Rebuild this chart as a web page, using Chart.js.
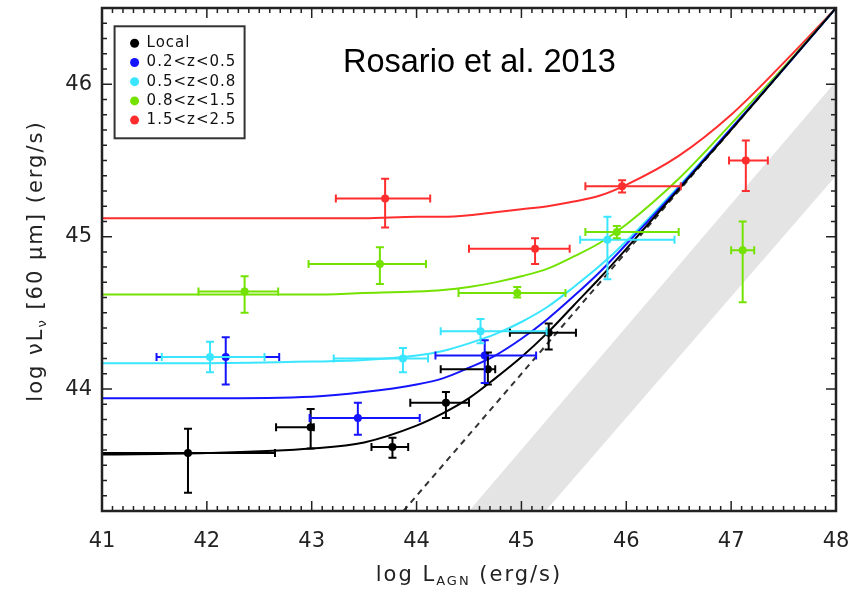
<!DOCTYPE html>
<html>
<head>
<meta charset="utf-8">
<script src="https://cdn.jsdelivr.net/npm/chart.js@4.4.0/dist/chart.umd.min.js"></script>
<style>
  html, body { margin: 0; padding: 0; background: #fff; }
</style>
</head>
<body>
<canvas id="myChart" width="861" height="591"></canvas>
<script>
// axis ticks
const xTicks = [41, 42, 43, 44, 45, 46, 47, 48];
const yTicks = [44, 45, 46];

// redshift bins
const groups = ['Local', '0.2<z<0.5', '0.5<z<0.8', '0.8<z<1.5', '1.5<z<2.5'];
const colors = ['#000000', '#1414ff', '#3ae6ff', '#74e200', '#ff2d2d'];

// measured points (centre, x range, y range)
const localX   = [41.82, 42.99, 43.77, 44.28, 44.68, 45.26];
const localY   = [43.58, 43.75, 43.62, 43.91, 44.13, 44.37];
const localXLo = [41.00, 42.66, 43.57, 43.94, 44.23, 44.89];
const localXHi = [42.65, 43.02, 43.92, 44.50, 44.75, 45.52];
const localYLo = [43.32, 43.61, 43.55, 43.81, 44.03, 44.26];
const localYHi = [43.74, 43.87, 43.68, 43.98, 44.24, 44.43];

const z1X   = [42.18, 43.44, 44.65];
const z1Y   = [44.21, 43.81, 44.22];
const z1XLo = [41.52, 42.98, 44.18];
const z1XHi = [42.69, 44.03, 45.14];
const z1YLo = [44.03, 43.70, 44.04];
const z1YHi = [44.34, 43.91, 44.32];

const z2X   = [42.03, 43.87, 44.61, 45.82];
const z2Y   = [44.21, 44.20, 44.38, 44.98];
const z2XLo = [41.57, 43.21, 44.23, 45.56];
const z2XHi = [42.55, 44.11, 45.24, 46.46];
const z2YLo = [44.11, 44.11, 44.30, 44.72];
const z2YHi = [44.31, 44.27, 44.46, 45.13];

const z3X   = [42.36, 43.65, 44.96, 45.91, 47.11];
const z3Y   = [44.64, 44.82, 44.63, 45.03, 44.91];
const z3XLo = [41.92, 42.97, 44.40, 45.61, 47.00];
const z3XHi = [42.68, 44.09, 45.42, 46.50, 47.22];
const z3YLo = [44.50, 44.69, 44.60, 44.99, 44.57];
const z3YHi = [44.74, 44.93, 44.67, 45.07, 45.10];

const z4X   = [43.70, 45.13, 45.96, 47.14];
const z4Y   = [45.25, 44.92, 45.33, 45.50];
const z4XLo = [43.23, 44.50, 45.61, 46.98];
const z4XHi = [44.13, 45.46, 46.52, 47.35];
const z4YLo = [45.06, 44.82, 45.29, 45.30];
const z4YHi = [45.38, 44.99, 45.37, 45.63];

// model curves
const curveX = [41, 42, 43, 43.5, 44, 44.25, 44.5, 44.75, 45, 45.25, 45.5, 45.75, 46, 46.5, 47, 47.5, 48];
const localCurve = [43.57, 43.58, 43.61, 43.65, 43.76, 43.84, 43.94, 44.07, 44.21, 44.37, 44.55, 44.73, 44.92, 45.31, 45.70, 46.10, 46.50];
const z1Curve    = [43.94, 43.94, 43.95, 43.98, 44.03, 44.07, 44.14, 44.22, 44.33, 44.46, 44.61, 44.77, 44.95, 45.32, 45.71, 46.10, 46.50];
const z2Curve    = [44.17, 44.17, 44.18, 44.19, 44.22, 44.25, 44.30, 44.36, 44.44, 44.54, 44.67, 44.81, 44.97, 45.33, 45.71, 46.10, 46.50];
const z3Curve    = [44.62, 44.62, 44.62, 44.63, 44.64, 44.65, 44.67, 44.70, 44.74, 44.79, 44.87, 44.96, 45.08, 45.38, 45.74, 46.11, 46.50];
const z4Curve    = [45.12, 45.12, 45.12, 45.12, 45.13, 45.13, 45.14, 45.16, 45.18, 45.20, 45.23, 45.27, 45.34, 45.53, 45.80, 46.14, 46.50];

// AGN-only relation (dashed) and grey band
const dashX = [43.875, 48];
const dashY = [43.2, 46.5];
const bandX = [44.50, 48, 48, 45.23];
const bandY = [43.2, 46.02, 45.40, 43.2];

const zip = (xs, ys) => xs.map((v, i) => ({ x: v, y: ys[i] }));

const pointSets = [
  [localX, localY, localXLo, localXHi, localYLo, localYHi],
  [z1X, z1Y, z1XLo, z1XHi, z1YLo, z1YHi],
  [z2X, z2Y, z2XLo, z2XHi, z2YLo, z2YHi],
  [z3X, z3Y, z3XLo, z3XHi, z3YLo, z3YHi],
  [z4X, z4Y, z4XLo, z4XHi, z4YLo, z4YHi],
];
const curves = [localCurve, z1Curve, z2Curve, z3Curve, z4Curve];

const datasets = [];
pointSets.forEach((s, i) => {
  datasets.push({
    label: groups[i],
    data: zip(s[0], s[1]),
    err: { xLo: s[2], xHi: s[3], yLo: s[4], yHi: s[5] },
    showLine: false,
    pointRadius: 4,
    pointBackgroundColor: colors[i],
    pointBorderWidth: 0,
    borderColor: colors[i],
    order: 1,
  });
});
curves.forEach((c, i) => {
  datasets.push({
    label: groups[i] + ' model',
    data: zip(curveX, c),
    showLine: true,
    borderColor: colors[i],
    borderWidth: 2,
    pointRadius: 0,
    cubicInterpolationMode: 'monotone',
    order: 5,
  });
});
datasets.push({
  label: 'AGN',
  data: zip(dashX, dashY),
  showLine: true,
  borderColor: '#333',
  borderWidth: 2,
  borderDash: [6, 5],
  pointRadius: 0,
  order: 9,
});
datasets.push({
  label: 'band',
  data: zip(bandX, bandY),
  showLine: true,
  borderWidth: 0,
  borderColor: 'rgba(0,0,0,0)',
  backgroundColor: '#e4e4e4',
  fill: 'shape',
  pointRadius: 0,
  order: 10,
});

// error bars with caps
const errorBars = {
  id: 'errorBars',
  afterDatasetsDraw(chart) {
    const { ctx, chartArea: a, scales: { x, y } } = chart;
    ctx.save();
    ctx.beginPath();
    ctx.rect(a.left, a.top, a.right - a.left, a.bottom - a.top);
    ctx.clip();
    ctx.lineWidth = 2;
    chart.data.datasets.forEach(ds => {
      if (!ds.err) return;
      ctx.strokeStyle = ds.borderColor;
      ds.data.forEach((p, i) => {
        const px = x.getPixelForValue(p.x), py = y.getPixelForValue(p.y);
        const x0 = x.getPixelForValue(ds.err.xLo[i]), x1 = x.getPixelForValue(ds.err.xHi[i]);
        const y0 = y.getPixelForValue(ds.err.yLo[i]), y1 = y.getPixelForValue(ds.err.yHi[i]);
        ctx.beginPath();
        ctx.moveTo(x0, py); ctx.lineTo(x1, py);
        ctx.moveTo(x0, py - 4); ctx.lineTo(x0, py + 4);
        ctx.moveTo(x1, py - 4); ctx.lineTo(x1, py + 4);
        ctx.moveTo(px, y0); ctx.lineTo(px, y1);
        ctx.moveTo(px - 4, y0); ctx.lineTo(px + 4, y0);
        ctx.moveTo(px - 4, y1); ctx.lineTo(px + 4, y1);
        ctx.stroke();
      });
    });
    ctx.restore();
  }
};

// box with inward ticks on all four sides
const frameTicks = {
  id: 'frameTicks',
  afterDatasetsDraw(chart) {
    const { ctx, chartArea: a, scales: { x, y } } = chart;
    ctx.save();
    ctx.strokeStyle = '#222';
    ctx.lineWidth = 1.5;
    ctx.beginPath();
    for (let k = 410; k <= 480; k++) {
      const px = x.getPixelForValue(k / 10);
      const len = k % 10 === 0 ? 10 : 5;
      ctx.moveTo(px, a.bottom); ctx.lineTo(px, a.bottom - len);
      ctx.moveTo(px, a.top); ctx.lineTo(px, a.top + len);
    }
    for (let k = 432; k <= 465; k++) {
      const py = y.getPixelForValue(k / 10);
      const len = k % 10 === 0 ? 10 : 5;
      ctx.moveTo(a.left, py); ctx.lineTo(a.left + len, py);
      ctx.moveTo(a.right, py); ctx.lineTo(a.right - len, py);
    }
    ctx.stroke();
    ctx.lineWidth = 2.5;
    ctx.strokeRect(a.left, a.top, a.right - a.left, a.bottom - a.top);
    ctx.restore();
  }
};

// text with a subscript piece, centred on the current origin
function richText(ctx, parts, size) {
  const fontFor = sub => (sub ? Math.round(size * 0.6) : size) + 'px "DejaVu Sans"';
  let w = 0;
  parts.forEach(p => {
    ctx.font = fontFor(p[1]);
    w += ctx.measureText(p[0]).width;
  });
  let cx = -w / 2;
  parts.forEach(p => {
    ctx.font = fontFor(p[1]);
    ctx.fillText(p[0], cx, p[1] ? size * 0.28 : 0);
    cx += ctx.measureText(p[0]).width;
  });
}

const labels = {
  id: 'labels',
  afterDraw(chart) {
    const { ctx, chartArea: a, scales: { x, y } } = chart;
    ctx.save();
    ctx.fillStyle = '#222';
    ctx.textBaseline = 'middle';
    ctx.textAlign = 'left';
    ctx.letterSpacing = '2px';
    // x title
    ctx.save();
    ctx.translate((a.left + a.right) / 2, 576);
    richText(ctx, [['log L', false], ['AGN', true], [' (erg/s)', false]], 21);
    ctx.restore();
    // y title
    ctx.save();
    ctx.translate(37, y.getPixelForValue(44.84));
    ctx.rotate(-Math.PI / 2);
    richText(ctx, [['log \u03BDL', false], ['\u03BD', true], [' [60 \u03BCm] (erg/s)', false]], 21);
    ctx.restore();

    // legend
    const lx = x.getPixelForValue(41.12), ly = y.getPixelForValue(46.38);
    const lw = 130, lh = 112;
    ctx.fillStyle = '#fff';
    ctx.fillRect(lx, ly, lw, lh);
    ctx.strokeStyle = '#333';
    ctx.lineWidth = 2;
    ctx.strokeRect(lx, ly, lw, lh);
    ctx.font = '15px "DejaVu Sans"';
    ctx.letterSpacing = '1px';
    groups.forEach((g, i) => {
      const ry = ly + 17 + i * 19.2;
      ctx.fillStyle = colors[i];
      ctx.beginPath();
      ctx.arc(lx + 20, ry, 4.5, 0, Math.PI * 2);
      ctx.fill();
      ctx.fillStyle = '#111';
      ctx.fillText(g, lx + 32, ry);
    });
    ctx.letterSpacing = '0px';

    // annotation
    ctx.fillStyle = '#000';
    ctx.textBaseline = 'alphabetic';
    ctx.font = '32.5px "Liberation Sans", Arial, sans-serif';
    ctx.fillText('Rosario et al. 2013', 343, 72);
    ctx.restore();
  }
};

const ctx = document.getElementById('myChart').getContext('2d');
const myChart = new Chart(ctx, {
  type: 'scatter',
  data: { datasets },
  options: {
    responsive: false,
    animation: false,
    devicePixelRatio: 1,
    layout: { padding: { top: 8, right: 25, left: 0, bottom: 0 } },
    plugins: {
      legend: { display: false },
      tooltip: { enabled: false },
    },
    scales: {
      x: {
        type: 'linear',
        min: 41,
        max: 48,
        grid: { display: false, drawTicks: false },
        border: { display: false },
        afterBuildTicks: s => { s.ticks = xTicks.map(v => ({ value: v })); },
        afterFit: s => { s.height = 80; s.paddingLeft = 0; s.paddingRight = 0; },
        ticks: {
          color: '#222',
          padding: 18,
          maxRotation: 0,
          autoSkip: false,
          font: { family: 'DejaVu Sans', size: 21 },
        },
      },
      y: {
        type: 'linear',
        min: 43.2,
        max: 46.5,
        grid: { display: false, drawTicks: false },
        border: { display: false },
        afterBuildTicks: s => { s.ticks = yTicks.map(v => ({ value: v })); },
        afterFit: s => { s.width = 102; s.paddingTop = 0; s.paddingBottom = 0; },
        ticks: {
          color: '#222',
          padding: 10,
          font: { family: 'DejaVu Sans', size: 21 },
        },
      },
    },
  },
  plugins: [errorBars, frameTicks, labels],
});
</script>
</body>
</html>
